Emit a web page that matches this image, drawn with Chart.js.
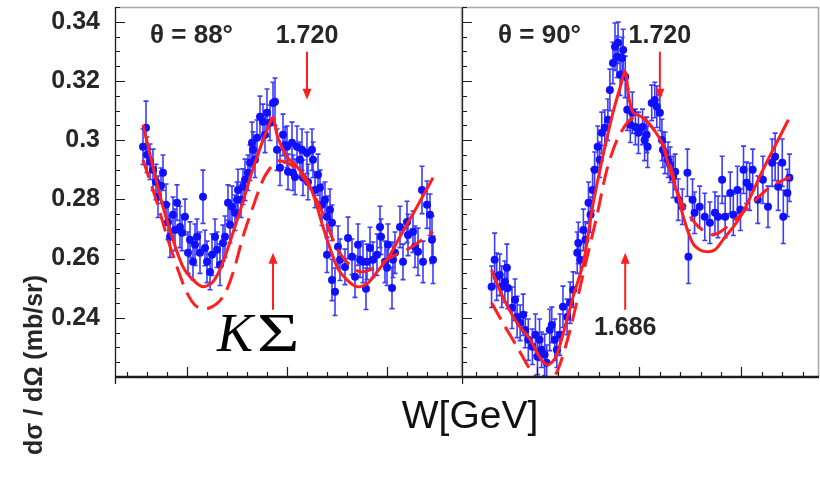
<!DOCTYPE html>
<html>
<head>
<meta charset="utf-8">
<script src="https://cdn.jsdelivr.net/npm/chart.js@4.4.1/dist/chart.umd.min.js"></script>
<style>
  html, body { margin: 0; padding: 0; background: #fff; }
  #wrap { position: relative; width: 820px; height: 488px; overflow: hidden; background: #fff; }
  #wrap canvas { position: absolute; top: 0; }
</style>
</head>
<body>
<div id="wrap">
  <canvas id="panel88" width="820" height="488" style="left:0"></canvas>
  <canvas id="panel90" width="358" height="488" style="left:462px"></canvas>
</div>
<script>
// ---------------- data ----------------
const yMajorTicks = [0.24, 0.26, 0.28, 0.30, 0.32, 0.34];
const yTickLabels = ['0.24', '0.26', '0.28', '0.3', '0.32', '0.34'];

// theta = 88 deg : measured cross section (W in GeV, dsigma/dOmega in mb/sr)
const W88 = [1.556,1.559,1.560,1.563,1.566,1.569,1.571,1.574,1.576,1.579,
  1.581,1.583,1.586,1.588,1.590,1.593,1.595,1.598,1.601,1.603,
  1.606,1.608,1.610,1.613,1.616,1.618,1.620,1.623,1.625,1.628,
  1.630,1.633,1.636,1.638,1.641,1.643,1.645,1.648,1.650,1.651,
  1.654,1.656,1.658,1.661,1.663,1.665,1.666,1.668,1.670,1.673,
  1.676,1.678,1.680,1.683,1.686,1.688,1.690,1.693,1.696,1.698,
  1.700,1.701,1.705,1.706,1.708,1.710,1.713,1.715,1.716,1.720,
  1.721,1.725,1.726,1.728,1.731,1.733,1.735,1.738,1.740,1.740,
  1.743,1.745,1.745,1.748,1.751,1.753,1.758,1.761,1.765,1.768,
  1.771,1.773,1.776,1.779,1.780,1.783,1.786,1.790,1.793,1.794,
  1.798,1.800,1.801,1.805,1.806,1.808,1.813,1.816,1.820,1.821,
  1.826,1.828,1.831,1.835,1.836,1.840,1.843,1.845,1.846];
const xs88 = [0.2978,0.3042,0.2951,0.2927,0.2900,0.2859,0.2809,0.2846,0.2890,0.2782,
  0.2724,0.2674,0.2748,0.2697,0.2789,0.2707,0.2687,0.2741,0.2620,0.2664,
  0.2589,0.2647,0.2674,0.2620,0.2809,0.2636,0.2589,0.2555,0.2613,0.2674,
  0.2630,0.2579,0.2653,0.2674,0.2789,0.2714,0.2775,0.2755,0.2799,0.2832,
  0.2799,0.2843,0.2866,0.2890,0.2924,0.2991,0.2968,0.2934,0.3008,0.3079,
  0.3062,0.3018,0.3093,0.3059,0.3126,0.3130,0.2968,0.2907,0.3018,0.2984,
  0.2978,0.2893,0.2991,0.2890,0.2876,0.2978,0.2934,0.2968,0.2873,0.2957,
  0.2859,0.2968,0.2934,0.2832,0.2883,0.2839,0.2782,0.2799,0.2741,0.2613,
  0.2765,0.2721,0.2528,0.2488,0.2640,0.2596,0.2572,0.2670,0.2606,0.2539,
  0.2647,0.2596,0.2589,0.2498,0.2589,0.2636,0.2596,0.2613,0.2707,0.2674,
  0.2589,0.2569,0.2647,0.2501,0.2596,0.2620,0.2707,0.2589,0.2724,0.2680,
  0.2691,0.2640,0.2623,0.2832,0.2589,0.2782,0.2748,0.2664,0.2596];
const err88 = [0.006,0.009,0.006,0.006,0.007,0.006,0.007,0.006,0.006,0.007,
  0.006,0.007,0.006,0.007,0.006,0.007,0.006,0.006,0.007,0.006,
  0.006,0.007,0.006,0.007,0.009,0.006,0.007,0.006,0.007,0.006,
  0.006,0.007,0.006,0.007,0.006,0.006,0.007,0.006,0.006,0.007,
  0.006,0.006,0.007,0.006,0.006,0.007,0.006,0.006,0.006,0.007,
  0.006,0.006,0.008,0.006,0.007,0.008,0.007,0.006,0.007,0.006,
  0.007,0.006,0.007,0.006,0.006,0.007,0.006,0.007,0.006,0.007,
  0.006,0.007,0.006,0.006,0.007,0.006,0.007,0.006,0.007,0.006,
  0.007,0.006,0.007,0.008,0.007,0.007,0.006,0.007,0.006,0.007,
  0.007,0.006,0.007,0.007,0.006,0.007,0.006,0.007,0.007,0.006,
  0.007,0.006,0.007,0.007,0.006,0.007,0.007,0.006,0.007,0.007,
  0.007,0.007,0.008,0.008,0.007,0.008,0.007,0.008,0.008];

// theta = 88 deg : model curves (solid = full fit, dashed = alternative)
const fitW88 = [1.556,1.566,1.576,1.586,1.596,1.606,1.616,1.626,1.635,1.645,1.655,1.665,1.675,1.681,1.686,
  1.690,1.693,1.700,1.710,1.720,1.728,1.736,1.750,1.760,1.770,1.780,1.790,1.803,1.813,1.830,1.846];
const fitV88 = [0.3052,0.2910,0.2775,0.2664,0.2572,0.2528,0.2505,0.2522,0.2579,0.2677,0.2782,0.2893,0.2991,0.3042,0.3076,
  0.3018,0.2991,0.2944,0.2910,0.2866,0.2799,0.2707,0.2572,0.2528,0.2505,0.2515,0.2555,0.2613,0.2674,0.2775,0.2873];
const altW88 = [1.556,1.570,1.580,1.590,1.600,1.610,1.623,1.636,1.646,1.656,1.666,1.676,1.684,1.690,1.700,
  1.710,1.720,1.733,1.746,1.756,1.765,1.773,1.783,1.793,1.803,1.823,1.846];
const altV88 = [0.2934,0.2789,0.2674,0.2572,0.2484,0.2437,0.2434,0.2471,0.2552,0.2674,0.2775,0.2866,0.2910,0.2930,0.2924,
  0.2900,0.2856,0.2775,0.2664,0.2603,0.2572,0.2555,0.2562,0.2579,0.2603,0.2636,0.2691];

// theta = 90 deg : measured cross section
const W90 = [1.555,1.558,1.560,1.563,1.565,1.568,1.570,1.571,1.575,1.578,
  1.580,1.583,1.586,1.588,1.591,1.595,1.598,1.600,1.602,1.604,
  1.607,1.609,1.612,1.614,1.617,1.619,1.622,1.625,1.629,1.632,
  1.635,1.639,1.640,1.642,1.645,1.647,1.650,1.652,1.654,1.656,
  1.659,1.661,1.663,1.666,1.669,1.671,1.674,1.676,1.678,1.679,
  1.681,1.683,1.684,1.686,1.688,1.691,1.693,1.696,1.699,1.703,
  1.705,1.707,1.708,1.712,1.715,1.717,1.720,1.722,1.723,1.725,
  1.728,1.730,1.733,1.735,1.738,1.742,1.747,1.748,1.752,1.754,
  1.759,1.764,1.769,1.774,1.777,1.781,1.784,1.789,1.792,1.796,
  1.799,1.802,1.805,1.808,1.811,1.816,1.821,1.826,1.830,1.833,
  1.836,1.840,1.841,1.845,1.847];
const xs90 = [0.2505,0.2596,0.2539,0.2545,0.2505,0.2522,0.2569,0.2501,0.2434,0.2461,
  0.2403,0.2383,0.2410,0.2359,0.2326,0.2302,0.2343,0.2268,0.2326,0.2292,
  0.2275,0.2248,0.2359,0.2376,0.2326,0.2292,0.2343,0.2437,0.2403,0.2451,
  0.2495,0.2620,0.2653,0.2596,0.2697,0.2664,0.2789,0.2748,0.2832,0.2900,
  0.2978,0.2934,0.3025,0.3042,0.3069,0.3170,0.3261,0.3316,0.3282,0.3329,
  0.3221,0.3278,0.3305,0.3214,0.3103,0.3052,0.3093,0.3045,0.3025,0.3045,
  0.3001,0.3018,0.2978,0.3126,0.3136,0.3113,0.3093,0.3001,0.2968,0.2957,
  0.2934,0.2917,0.2876,0.2893,0.2799,0.2775,0.2890,0.2606,0.2799,0.2755,
  0.2775,0.2741,0.2721,0.2755,0.2741,0.2866,0.2741,0.2822,0.2748,0.2832,
  0.2765,0.2900,0.2856,0.2843,0.2900,0.2799,0.2866,0.2775,0.2924,0.2944,
  0.2843,0.2924,0.2741,0.2822,0.2873];
const err90 = [0.007,0.009,0.008,0.007,0.007,0.007,0.008,0.007,0.007,0.007,
  0.007,0.006,0.007,0.006,0.007,0.006,0.007,0.006,0.007,0.006,
  0.007,0.006,0.007,0.006,0.007,0.006,0.007,0.007,0.006,0.007,
  0.006,0.007,0.007,0.006,0.007,0.006,0.007,0.006,0.007,0.006,
  0.007,0.006,0.007,0.006,0.007,0.007,0.007,0.008,0.007,0.007,
  0.007,0.007,0.007,0.007,0.007,0.006,0.007,0.006,0.007,0.006,
  0.007,0.006,0.007,0.006,0.006,0.007,0.006,0.007,0.006,0.007,
  0.006,0.006,0.007,0.006,0.007,0.006,0.008,0.009,0.007,0.007,
  0.007,0.008,0.007,0.007,0.007,0.008,0.007,0.007,0.007,0.008,
  0.007,0.008,0.007,0.008,0.007,0.008,0.008,0.007,0.008,0.008,
  0.008,0.008,0.009,0.008,0.008];

// theta = 90 deg : model curves
const fitW90 = [1.555,1.566,1.580,1.593,1.602,1.610,1.618,1.627,1.636,1.645,1.654,1.664,1.674,1.681,1.686,
  1.690,1.694,1.702,1.712,1.722,1.727,1.737,1.743,1.752,1.759,1.767,1.774,1.782,1.799,1.821,1.846];
const fitV90 = [0.2562,0.2471,0.2383,0.2326,0.2268,0.2241,0.2268,0.2370,0.2484,0.2586,0.2775,0.2944,0.3093,0.3178,0.3231,
  0.3136,0.3093,0.3079,0.3045,0.2991,0.2934,0.2822,0.2741,0.2653,0.2630,0.2623,0.2630,0.2664,0.2741,0.2900,0.3069];
const altW90 = [1.555,1.566,1.580,1.593,1.603,1.612,1.620,1.632,1.645,1.658,1.668,1.678,1.688,1.696,1.702,
  1.712,1.722,1.730,1.740,1.750,1.759,1.772,1.782,1.799,1.828,1.848];
const altV90 = [0.2451,0.2383,0.2302,0.2224,0.2184,0.2184,0.2224,0.2359,0.2552,0.2741,0.2900,0.3001,0.3059,0.3079,0.3079,
  0.3045,0.2991,0.2917,0.2799,0.2741,0.2704,0.2680,0.2697,0.2748,0.2842,0.2876];

// ---------------- drawing ----------------
const Y_MIN = 0.22, Y_MAX = 0.345;
const RED = '#ff1f1f';
const BLUE = '#1010ff';
const BAR = '#3c3cff';
const INK = '#262626';
const SANS = '"Liberation Sans", Arial, Helvetica, sans-serif';
const SERIF = '"Liberation Serif", "Times New Roman", serif';

const pairs = (xs, ys) => xs.map((x, i) => ({ x, y: ys[i] }));

function arrow(ctx, X, y0, y1) {
  const dir = Math.sign(y1 - y0);
  ctx.beginPath();
  ctx.moveTo(X, y0);
  ctx.lineTo(X, y1 - dir * 8);
  ctx.stroke();
  ctx.beginPath();
  ctx.moveTo(X, y1);
  ctx.lineTo(X - 4.5, y1 - dir * 11);
  ctx.lineTo(X + 4.5, y1 - dir * 11);
  ctx.closePath();
  ctx.fill();
}

function decorations(cfg) {
  return {
    id: 'decorations',
    beforeDatasetsDraw(chart) {
      const { ctx, chartArea: a, scales: { x, y } } = chart;
      ctx.save();
      ctx.beginPath();
      ctx.rect(a.left, a.top, a.right - a.left, a.bottom - a.top);
      ctx.clip();
      ctx.strokeStyle = BAR;
      ctx.lineWidth = 1.6;
      ctx.beginPath();
      cfg.w.forEach((w, i) => {
        const X = x.getPixelForValue(w);
        const lo = y.getPixelForValue(cfg.v[i] - cfg.e[i]);
        const hi = y.getPixelForValue(cfg.v[i] + cfg.e[i]);
        ctx.moveTo(X, lo); ctx.lineTo(X, hi);
        ctx.moveTo(X - 2.5, lo); ctx.lineTo(X + 2.5, lo);
        ctx.moveTo(X - 2.5, hi); ctx.lineTo(X + 2.5, hi);
      });
      ctx.stroke();
      ctx.restore();
    },
    afterDraw(chart) {
      const { ctx, chartArea: a, scales: { x, y } } = chart;
      ctx.save();
      // frame
      ctx.strokeStyle = '#a8a8a8';
      ctx.lineWidth = 1.5;
      ctx.beginPath();
      ctx.moveTo(a.left, a.top + 0.5);
      ctx.lineTo(a.right - 0.5, a.top + 0.5);
      ctx.lineTo(a.right - 0.5, a.bottom);
      ctx.stroke();
      // axes
      ctx.strokeStyle = '#1c1c1c';
      ctx.lineWidth = 1.3;
      ctx.beginPath();
      ctx.moveTo(a.left + 0.5, a.top);
      ctx.lineTo(a.left + 0.5, a.bottom + 7);
      ctx.stroke();
      ctx.lineWidth = 2.4;
      ctx.beginPath();
      ctx.moveTo(a.left, a.bottom);
      ctx.lineTo(a.right, a.bottom);
      ctx.stroke();
      // inward tick marks
      ctx.lineWidth = 1.2;
      ctx.beginPath();
      for (let k = 45; k <= 69; k++) {
        const Y = Math.round(y.getPixelForValue(k * 0.005)) + 0.5;
        const len = (k % 4 === 0) ? 10 : 5;
        ctx.moveTo(a.left, Y); ctx.lineTo(a.left + len, Y);
      }
      for (let k = 77; k <= 93; k++) {
        const X = Math.round(x.getPixelForValue(k * 0.02)) + 0.5;
        const len = (k % 5 === 0) ? 10 : 5;
        ctx.moveTo(X, a.bottom); ctx.lineTo(X, a.bottom - len);
      }
      ctx.stroke();

      // arrows
      ctx.strokeStyle = RED;
      ctx.fillStyle = RED;
      ctx.lineWidth = 2;
      cfg.arrows.forEach(ar => {
        arrow(ctx, x.getPixelForValue(ar.w), y.getPixelForValue(ar.from), y.getPixelForValue(ar.to));
      });

      // labels
      ctx.fillStyle = INK;
      ctx.textBaseline = 'alphabetic';
      cfg.texts.forEach(t => {
        ctx.font = t.font;
        ctx.textAlign = t.align;
        ctx.fillText(t.text, x.getPixelForValue(t.w), y.getPixelForValue(t.v));
      });

      if (cfg.kSigma) {
        const ks = cfg.kSigma;
        const X0 = x.getPixelForValue(ks.w), Y0 = y.getPixelForValue(ks.v);
        ctx.fillStyle = '#000';
        ctx.textAlign = 'left';
        ctx.font = 'italic 54px ' + SERIF;
        ctx.fillText('K', X0, Y0);
        const kw = ctx.measureText('K').width;
        ctx.save();
        ctx.translate(X0 + kw + 4, Y0);
        ctx.scale(1.35, 1);
        ctx.font = '54px ' + SERIF;
        ctx.fillText('\u03A3', 0, 0);
        ctx.restore();
      }

      if (cfg.titles) {
        ctx.fillStyle = INK;
        ctx.save();
        ctx.translate(35, 365);
        ctx.rotate(-Math.PI / 2);
        ctx.font = 'bold 25px ' + SANS;
        ctx.textAlign = 'center';
        ctx.textBaseline = 'middle';
        ctx.fillText('d\u03C3 / d\u03A9 (mb/sr)', 0, 0);
        ctx.restore();
        ctx.fillStyle = '#111';
        ctx.font = '39px ' + SANS;
        ctx.textAlign = 'center';
        ctx.textBaseline = 'middle';
        ctx.fillText('W[GeV]', 470, 417);
      }
      ctx.restore();
    }
  };
}

function panel(id, cfg) {
  const curve = (w, v, dash) => ({
    type: 'line', data: pairs(w, v), borderColor: RED, borderWidth: 3,
    borderDash: dash, pointRadius: 0, tension: 0.3, fill: false, order: 0
  });
  return new Chart(document.getElementById(id), {
    type: 'scatter',
    data: {
      datasets: [
        curve(cfg.fitW, cfg.fitV, []),
        curve(cfg.altW, cfg.altV, [19, 9]),
        { type: 'scatter', data: pairs(cfg.w, cfg.v), pointRadius: 4,
          backgroundColor: BLUE, borderWidth: 0, order: 1 }
      ]
    },
    options: {
      responsive: false,
      animation: false,
      events: [],
      layout: { autoPadding: false, padding: { left: 0, top: 7, right: cfg.padRight, bottom: 0 } },
      plugins: { legend: { display: false }, tooltip: { enabled: false } },
      scales: {
        x: {
          type: 'linear', min: cfg.wMin, max: cfg.wMax,
          ticks: { display: false }, grid: { display: false }, border: { display: false },
          afterFit: s => { s.height = 111; s.paddingLeft = 0; s.paddingRight = 0; }
        },
        y: {
          type: 'linear', min: Y_MIN, max: Y_MAX,
          grid: { display: false }, border: { display: false },
          afterBuildTicks: s => { s.ticks = yMajorTicks.map(v => ({ value: v })); },
          ticks: {
            display: cfg.labels, color: INK, padding: 7,
            font: { family: SANS, size: 25, weight: 'bold' },
            callback: (v, i) => yTickLabels[i]
          },
          afterFit: s => { s.width = cfg.axisWidth; s.paddingTop = 0; s.paddingBottom = 0; }
        }
      }
    },
    plugins: [decorations(cfg)]
  });
}

panel('panel88', {
  w: W88, v: xs88, e: err88, fitW: fitW88, fitV: fitV88, altW: altW88, altV: altV88,
  wMin: 1.528, wMax: 1.875, padRight: 358, axisWidth: 115, labels: true, titles: true,
  arrows: [ { w: 1.720, from: 0.3299, to: 0.3137 }, { w: 1.686, from: 0.2427, to: 0.2620 } ],
  texts: [
    { text: '\u03B8 = 88\u00B0', w: 1.563, v: 0.3329, align: 'left', font: 'bold 26px ' + SANS },
    { text: '1.720', w: 1.720, v: 0.3329, align: 'center', font: 'bold 25px ' + SANS }
  ],
  kSigma: { w: 1.630, v: 0.2289 }
});

panel('panel90', {
  w: W90, v: xs90, e: err90, fitW: fitW90, fitV: fitV90, altW: altW90, altV: altV90,
  wMin: 1.526, wMax: 1.876, padRight: 1, axisWidth: 0, labels: false, titles: false,
  arrows: [ { w: 1.720, from: 0.3299, to: 0.3137 }, { w: 1.686, from: 0.2427, to: 0.2620 } ],
  texts: [
    { text: '\u03B8 = 90\u00B0', w: 1.5613, v: 0.3329, align: 'left', font: 'bold 26px ' + SANS },
    { text: '1.720', w: 1.720, v: 0.3329, align: 'center', font: 'bold 25px ' + SANS },
    { text: '1.686', w: 1.686, v: 0.2343, align: 'center', font: 'bold 25px ' + SANS }
  ]
});
</script>
</body>
</html>
